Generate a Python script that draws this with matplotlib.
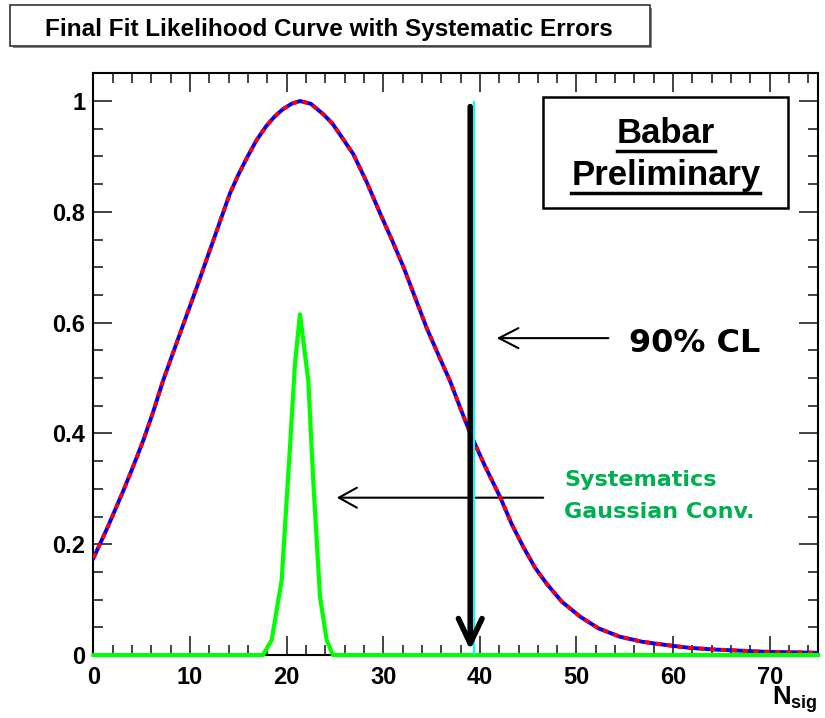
import matplotlib
matplotlib.use("Agg")
import matplotlib.pyplot as plt
from matplotlib.patches import Rectangle
from matplotlib.ticker import MultipleLocator, FuncFormatter

plt.rcParams["font.family"] = ["Liberation Sans", "DejaVu Sans"]
plt.rcParams["font.weight"] = "bold"
plt.rcParams["mathtext.fontset"] = "custom"
plt.rcParams["mathtext.bf"] = "Liberation Sans:bold"
plt.rcParams["mathtext.rm"] = "Liberation Sans:bold"

# Likelihood curve
nsig = [0, 1.5, 3.1, 4.1, 5.15, 6.2, 7.2, 8.95, 10.7, 11.55, 12.4, 13.25, 14.1,
        15.0, 15.9, 16.9, 17.9, 18.75, 19.6, 20.5, 21.4, 22.5, 23.8, 24.7, 25.5,
        26.9, 28.3, 29.7, 30.9, 32.1, 33.3, 34.5, 35.7, 36.9, 37.95, 39.0, 40.5,
        42.1, 43.3, 44.5, 45.7, 46.9, 48.5, 50.4, 52.3, 54.5, 56.8, 59.3, 61.7,
        64.2, 69.3, 75]
likelihood = [0.175, 0.232, 0.297, 0.34, 0.387, 0.44, 0.495, 0.58, 0.664, 0.706,
              0.748, 0.79, 0.832, 0.867, 0.898, 0.93, 0.955, 0.972, 0.985, 0.995,
              1.0, 0.995, 0.976, 0.96, 0.94, 0.904, 0.853, 0.796, 0.749, 0.70,
              0.645, 0.59, 0.542, 0.495, 0.447, 0.40, 0.342, 0.285, 0.236, 0.195,
              0.158, 0.129, 0.096, 0.069, 0.048, 0.033, 0.024, 0.018, 0.013,
              0.010, 0.006, 0.004]

# Systematics gaussian convolution (green)
syst_x = [0, 17.55, 18.45, 19.48, 20.34, 20.86, 21.38, 22.24, 22.75, 23.45, 24.14, 24.79, 75]
syst_y = [0, 0, 0.027, 0.135, 0.375, 0.526, 0.615, 0.495, 0.315, 0.105, 0.027, 0, 0]

cl_90 = 39.0
cl_line = 39.35

fig = plt.figure(figsize=(8.25, 7.18), dpi=100)
ax = fig.add_axes([0.1133, 0.0877, 0.8782, 0.8102])

ax.plot(nsig, likelihood, color="#0000ff", lw=2.8, zorder=3)
ax.plot(nsig, likelihood, color="#ff0000", lw=2.8, ls=(0, (1.4, 1.4)), zorder=4)
ax.plot(syst_x, syst_y, color="#00ff00", lw=3, zorder=5, clip_on=False)

# 90% CL markers
ax.plot([cl_line, cl_line], [0, 0.998], color="#00ffff", lw=1.5, zorder=6)
ax.annotate("", xy=(cl_90, 0.009), xytext=(cl_90, 0.99),
            arrowprops=dict(arrowstyle="->,head_length=1.8,head_width=0.85",
                            lw=4, color="black", mutation_scale=10,
                            shrinkA=0, shrinkB=0), zorder=7)

ax.annotate("", xy=(41.74, 0.572), xytext=(53.3, 0.572),
            arrowprops=dict(arrowstyle="->,head_length=1.4,head_width=0.72",
                            lw=1.5, color="black", mutation_scale=10,
                            shrinkA=0, shrinkB=0))
ax.text(55.4, 0.5465, "90% CL", fontsize=23, fontweight="bold",
        family="DejaVu Sans", va="baseline", ha="left")

ax.annotate("", xy=(25.18, 0.284), xytext=(46.56, 0.284),
            arrowprops=dict(arrowstyle="->,head_length=1.3,head_width=0.72",
                            lw=1.5, color="black", mutation_scale=10,
                            shrinkA=0, shrinkB=0))
ax.text(48.7, 0.306, "Systematics", fontsize=16, fontweight="bold",
        family="DejaVu Sans", color="#00b050", va="baseline", ha="left")
ax.text(48.7, 0.248, "Gaussian Conv.", fontsize=16, fontweight="bold",
        family="DejaVu Sans", color="#00b050", va="baseline", ha="left")

# Babar Preliminary box
ax.add_patch(Rectangle((0.6208, 0.769), 0.959 - 0.6208, 0.9587 - 0.769,
                       transform=ax.transAxes, fill=False, lw=1.8,
                       edgecolor="black", zorder=8))
t1 = ax.text(0.790, 0.8797, "Babar", transform=ax.transAxes, fontsize=25,
             fontweight="bold", ha="center", va="baseline")
t2 = ax.text(0.790, 0.808, "Preliminary", transform=ax.transAxes, fontsize=25,
             fontweight="bold", ha="center", va="baseline")

ax.set_xlim(0, 75)
ax.set_ylim(0, 1.05)
ax.xaxis.set_major_locator(MultipleLocator(10))
ax.xaxis.set_minor_locator(MultipleLocator(2))
ax.yaxis.set_major_locator(MultipleLocator(0.2))
ax.yaxis.set_minor_locator(MultipleLocator(0.05))
ax.yaxis.set_major_formatter(FuncFormatter(lambda v, p: "%g" % round(v, 2)))
ax.tick_params(which="both", direction="in", top=True, right=True,
               labelsize=17, color="#222222")
ax.tick_params(which="major", length=14, width=1.2, pad=6)
ax.tick_params(which="minor", length=7, width=1.2)
ax.tick_params(axis="x", which="major", pad=8)
for lab in ax.get_xticklabels() + ax.get_yticklabels():
    lab.set_fontweight("bold")
for sp in ax.spines.values():
    sp.set_linewidth(1.5)

ax.text(1.0, -0.086, r"$\mathbf{N_{sig}}$", transform=ax.transAxes,
        fontsize=18.5, ha="right", va="baseline")

# title box
fig.patches.append(Rectangle((0.0127 + 0.003, 0.9366 - 0.004), 0.775, 0.0564,
                             transform=fig.transFigure, facecolor="#888888",
                             edgecolor="none", zorder=0))
fig.patches.append(Rectangle((0.0127, 0.9366), 0.775, 0.0564,
                             transform=fig.transFigure, facecolor="white",
                             edgecolor="#333333", lw=1.2, zorder=1))
fig.text(0.399, 0.9499, "Final Fit Likelihood Curve with Systematic Errors",
         fontsize=17.5, fontweight="bold", ha="center", va="baseline")

# underline the Babar Preliminary words
fig.canvas.draw()
inv = ax.transAxes.inverted()
for t in (t1, t2):
    bb = t.get_window_extent()
    (x0, y0), (x1, y1) = inv.transform([[bb.x0, bb.y0], [bb.x1, bb.y1]])
    ax.plot([x0, x1], [y0 - 0.002, y0 - 0.002], transform=ax.transAxes,
            color="black", lw=2.5)

fig.savefig("out.png", dpi=100)
